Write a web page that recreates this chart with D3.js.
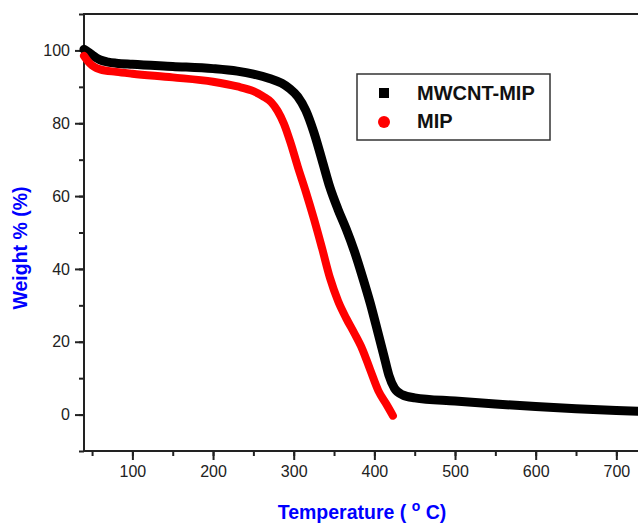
<!DOCTYPE html>
<meta charset="utf-8">
<head>
    <title>TGA</title>
    <style>
        body { margin: 0; background: #fff; }
        svg { display: block; }
    </style>
</head>

<script src="https://d3js.org/d3.v7.min.js"></script>

<div id="dataVis"></div>

<script>

    // data (temperature in C, weight %)
    var mwcntTemp = [40, 45, 50, 55, 60, 70, 80, 100, 150, 200, 230, 250, 270, 285, 295, 305, 315, 325, 335, 345, 355, 365, 375, 385, 395, 405, 412, 418, 425, 435, 450, 500, 550, 600, 650, 700, 750, 800];
    var mwcntWeight = [100.3, 99.6, 98.8, 98, 97.4, 96.8, 96.5, 96.2, 95.6, 95, 94.3, 93.5, 92.3, 91, 89.5, 87.3, 83.5, 77.5, 70, 62.3, 56.3, 51, 45, 38, 30.5, 22, 16, 10.8, 7.2, 5.4, 4.6, 3.7, 2.9, 2.2, 1.6, 1.1, 0.7, 0.3];

    var mipTemp = [40, 45, 50, 55, 60, 80, 100, 150, 200, 230, 250, 262, 272, 280, 288, 296, 305, 315, 325, 335, 345, 355, 365, 375, 385, 395, 405, 415, 423];
    var mipWeight = [98.5, 97, 95.9, 95.2, 94.8, 94.1, 93.6, 92.6, 91.4, 90.1, 88.8, 87.4, 85.8, 83.4, 79.8, 74.7, 68.1, 61.2, 53.8, 45.8, 37.5, 31.2, 26.5, 22.4, 18, 12.2, 6.5, 2.8, -0.3];

    var xTicks = [100, 200, 300, 400, 500, 600, 700];
    var yTicks = [0, 20, 40, 60, 80, 100];
    var seriesNames = ["MWCNT-MIP", "MIP"];

    var width = 638, height = 524;

    var svg = d3.select("#dataVis")
        .append("svg")
        .attr("width", width)
        .attr("height", height)
        .style("font-family", "'Liberation Sans', Arial, sans-serif");

    var x = d3.scaleLinear().domain([40, 800]).range([84, 697]);
    var y = d3.scaleLinear().domain([-10, 110]).range([451, 14]);

    var axisColor = "#222";

    // frame
    svg.append("rect")
        .attr("x", x(40)).attr("y", y(110))
        .attr("width", x(800) - x(40)).attr("height", y(-10) - y(110))
        .attr("fill", "none").attr("stroke", axisColor).attr("stroke-width", 2);

    // bottom axis: major + minor ticks
    var xAxis = svg.append("g").attr("transform", "translate(0," + y(-10) + ")");
    xAxis.call(d3.axisBottom(x).tickValues(d3.range(50, 801, 50)).tickSize(5).tickFormat(""))
        .call(function (g) { g.select(".domain").remove(); })
        .selectAll("line").attr("stroke", axisColor).attr("stroke-width", 2);
    xAxis.append("g")
        .call(d3.axisBottom(x).tickValues(xTicks).tickSize(9).tickPadding(6))
        .call(function (g) { g.select(".domain").remove(); })
        .call(function (g) { g.selectAll("line").attr("stroke", axisColor).attr("stroke-width", 2); })
        .selectAll("text").attr("fill", "#222").style("font-size", "16px").style("font-family", "'Liberation Sans', Arial, sans-serif");

    // left axis
    var yAxis = svg.append("g").attr("transform", "translate(" + x(40) + ",0)");
    yAxis.call(d3.axisLeft(y).tickValues(d3.range(-10, 111, 10)).tickSize(5).tickFormat(""))
        .call(function (g) { g.select(".domain").remove(); })
        .selectAll("line").attr("stroke", axisColor).attr("stroke-width", 2);
    yAxis.append("g")
        .call(d3.axisLeft(y).tickValues(yTicks).tickSize(9).tickPadding(5))
        .call(function (g) { g.select(".domain").remove(); })
        .call(function (g) { g.selectAll("line").attr("stroke", axisColor).attr("stroke-width", 2); })
        .selectAll("text").attr("fill", "#222").style("font-size", "16px").style("font-family", "'Liberation Sans', Arial, sans-serif");

    // curves
    var line = d3.line()
        .x(function (d) { return x(d[0]); })
        .y(function (d) { return y(d[1]); })
        .curve(d3.curveMonotoneX);

    var mwcnt = d3.zip(mwcntTemp, mwcntWeight);
    var mip = d3.zip(mipTemp, mipWeight);

    svg.append("path")
        .datum(mwcnt)
        .attr("d", line)
        .attr("fill", "none").attr("stroke", "#000").attr("stroke-width", 9)
        .attr("stroke-linecap", "round").attr("stroke-linejoin", "round");

    svg.append("path")
        .datum(mip)
        .attr("d", line)
        .attr("fill", "none").attr("stroke", "#ff0000").attr("stroke-width", 8)
        .attr("stroke-linecap", "round").attr("stroke-linejoin", "round");

    // legend
    var legend = svg.append("g");
    legend.append("rect")
        .attr("x", 357).attr("y", 74).attr("width", 193).attr("height", 66)
        .attr("fill", "#fff").attr("stroke", "#333").attr("stroke-width", 1.5);
    legend.append("rect")
        .attr("x", 379).attr("y", 88).attr("width", 10).attr("height", 10).attr("fill", "#000");
    legend.append("circle")
        .attr("cx", 384).attr("cy", 122).attr("r", 6).attr("fill", "#ff0000");
    legend.selectAll("text.lg")
        .data(seriesNames)
        .enter()
        .append("text")
        .attr("class", "lg")
        .attr("x", 417)
        .attr("y", function (d, i) { return 100 + i * 28; })
        .style("font-size", "20px").style("font-weight", "bold")
        .attr("fill", "#111")
        .text(function (d) { return d; });

    // axis titles
    svg.append("text")
        .attr("transform", "translate(27,248) rotate(-90)")
        .attr("text-anchor", "middle")
        .style("font-size", "19.5px").style("font-weight", "bold")
        .attr("fill", "#0000ff")
        .text("Weight % (%)");

    var xt = svg.append("text")
        .attr("x", 362).attr("y", 519)
        .attr("text-anchor", "middle")
        .style("font-size", "19.5px").style("font-weight", "bold")
        .attr("fill", "#0000ff");
    xt.append("tspan").text("Temperature ( ");
    xt.append("tspan").attr("dy", -8).style("font-size", "14px").text("o");
    xt.append("tspan").attr("dy", 8).text(" C)");

</script>
